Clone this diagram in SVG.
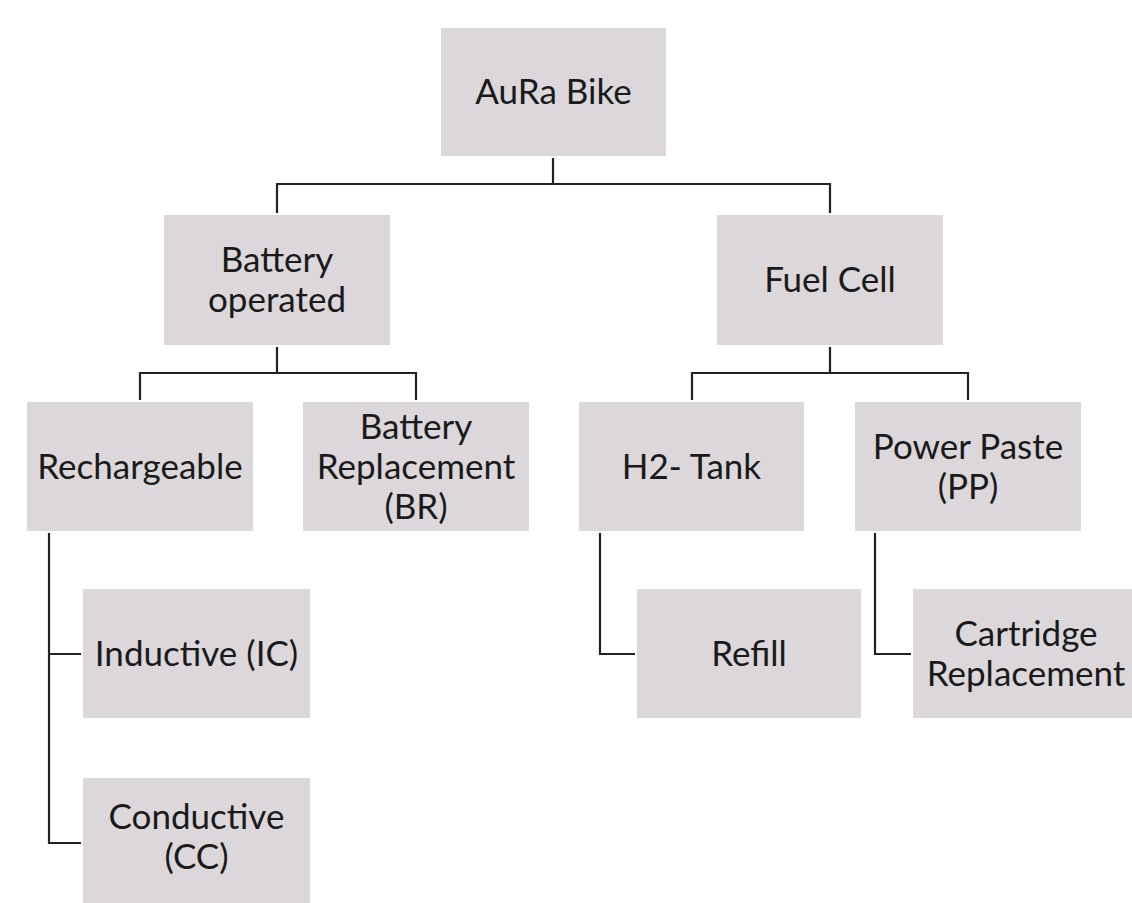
<svg xmlns="http://www.w3.org/2000/svg" width="1132" height="903" viewBox="0 0 1132 903">
<style>
.box{fill:#dbd7da;}
.t{font-family:Lato,"Liberation Sans",Arial,sans-serif;font-size:35px;fill:#1a1a1a;text-anchor:middle;}
.c{fill:none;stroke:#222;stroke-width:2.2;stroke-linejoin:miter;}
</style>
<rect width="1132" height="903" fill="#ffffff"/>
<g id="connectors">
<path class="c" d="M553,158 V184 M277,213 V184 H830 V213"/>
<path class="c" d="M277,347 V373 M140,400 V373 H416 V400"/>
<path class="c" d="M830,347 V373 M692,400 V373 H968 V400"/>
<path class="c" d="M81,843 H49 V533 M49,654 H81"/>
<path class="c" d="M600,533 V654 H635"/>
<path class="c" d="M875,533 V654 H911"/>
</g>
<g id="n_aura"><rect class="box" x="441" y="28" width="225" height="128"/><text class="t" x="553.5" y="104">AuRa Bike</text></g>
<g id="n_battery"><rect class="box" x="164" y="215" width="226" height="130"/><text class="t" x="277" y="272">Battery</text><text class="t" x="277" y="312">operated</text></g>
<g id="n_fuel"><rect class="box" x="717" y="215" width="226" height="130"/><text class="t" x="830" y="292">Fuel Cell</text></g>
<g id="n_rech"><rect class="box" x="27" y="402" width="226" height="129"/><text class="t" x="140" y="479">Rechargeable</text></g>
<g id="n_br"><rect class="box" x="303" y="402" width="226" height="129"/><text class="t" x="416" y="439">Battery</text><text class="t" x="416" y="479">Replacement</text><text class="t" x="416" y="519">(BR)</text></g>
<g id="n_h2"><rect class="box" x="579" y="402" width="225" height="129"/><text class="t" x="691.5" y="479">H2- Tank</text></g>
<g id="n_pp"><rect class="box" x="855" y="402" width="226" height="129"/><text class="t" x="968" y="459">Power Paste</text><text class="t" x="968" y="499">(PP)</text></g>
<g id="n_ind"><rect class="box" x="83" y="589" width="227" height="129"/><text class="t" x="196.5" y="666">Inductive (IC)</text></g>
<g id="n_refill"><rect class="box" x="637" y="589" width="224" height="129"/><text class="t" x="749" y="666">Refill</text></g>
<g id="n_cart"><rect class="box" x="913" y="589" width="226" height="129"/><text class="t" x="1026" y="646">Cartridge</text><text class="t" x="1026" y="686">Replacement</text></g>
<g id="n_cond"><rect class="box" x="83" y="778" width="227" height="130"/><text class="t" x="196.5" y="829">Conductive</text><text class="t" x="196.5" y="869">(CC)</text></g>
</svg>
